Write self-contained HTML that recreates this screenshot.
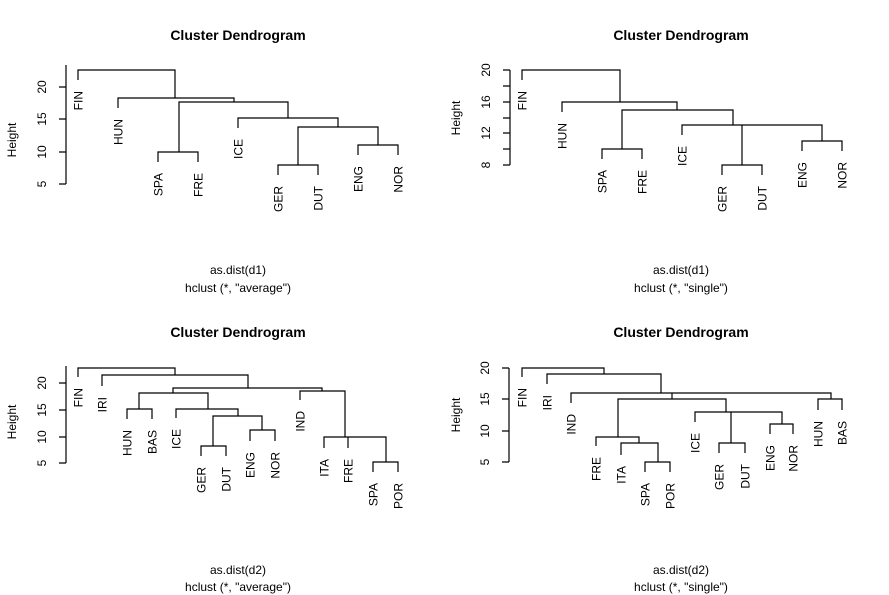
<!DOCTYPE html>
<html><head><meta charset="utf-8"><style>
html,body{margin:0;padding:0;background:#fff;}
svg{display:block;font-family:"Liberation Sans",Arial,sans-serif;}
path{fill:none;stroke:#000;stroke-width:1.2;}
.l{font-size:12px;text-anchor:end;}
.t{font-size:12px;text-anchor:middle;}
.h{font-size:14px;font-weight:bold;text-anchor:middle;}
</style></head><body>
<svg width="889" height="595" viewBox="0 0 889 595" xmlns="http://www.w3.org/2000/svg">
<!-- Panel 1 -->
<text class="h" x="238" y="40">Cluster Dendrogram</text>
<path d="M66,65V184 M59,87H66 M59,119H66 M59,152H66 M59,184H66"/>
<text class="t" transform="translate(46,87) rotate(-90)">20</text>
<text class="t" transform="translate(46,119) rotate(-90)">15</text>
<text class="t" transform="translate(46,152) rotate(-90)">10</text>
<text class="t" transform="translate(46,184) rotate(-90)">5</text>
<text class="t" transform="translate(16,140) rotate(-90)">Height</text>
<path d="M78,80V70H175V98 M118,108V98H234V102 M179,152V102H288V118 M158,162V152H198V162 M238,128V118H338V127 M298,165V127H378V145 M278,175V165H318V175 M358,155V145H398V155"/>
<text class="l" transform="translate(82.5,91) rotate(-90)">FIN</text>
<text class="l" transform="translate(122.5,119) rotate(-90)">HUN</text>
<text class="l" transform="translate(162.5,173) rotate(-90)">SPA</text>
<text class="l" transform="translate(202.5,173) rotate(-90)">FRE</text>
<text class="l" transform="translate(242.5,139) rotate(-90)">ICE</text>
<text class="l" transform="translate(282.5,186) rotate(-90)">GER</text>
<text class="l" transform="translate(322.5,186) rotate(-90)">DUT</text>
<text class="l" transform="translate(362.5,166) rotate(-90)">ENG</text>
<text class="l" transform="translate(402.5,166) rotate(-90)">NOR</text>
<text class="t" x="238" y="274">as.dist(d1)</text>
<text class="t" x="238" y="292">hclust (*, "average")</text>

<!-- Panel 2 -->
<text class="h" x="681" y="40">Cluster Dendrogram</text>
<path d="M510,70V165 M503,70H510 M503,86H510 M503,102H510 M503,118H510 M503,133H510 M503,149H510 M503,165H510"/>
<text class="t" transform="translate(490,70) rotate(-90)">20</text>
<text class="t" transform="translate(490,102) rotate(-90)">16</text>
<text class="t" transform="translate(490,133) rotate(-90)">12</text>
<text class="t" transform="translate(490,165) rotate(-90)">8</text>
<text class="t" transform="translate(460,118) rotate(-90)">Height</text>
<path d="M522,80V70H620V102 M562,112V102H677V110 M622,149V110H733V125 M602,159V149H642V159 M682,135V125H822V141 M742,125V165 M722,175V165H762V175 M802,151V141H842V151"/>
<text class="l" transform="translate(526.5,91) rotate(-90)">FIN</text>
<text class="l" transform="translate(566.5,123) rotate(-90)">HUN</text>
<text class="l" transform="translate(606.5,170) rotate(-90)">SPA</text>
<text class="l" transform="translate(646.5,170) rotate(-90)">FRE</text>
<text class="l" transform="translate(686.5,146) rotate(-90)">ICE</text>
<text class="l" transform="translate(726.5,186) rotate(-90)">GER</text>
<text class="l" transform="translate(766.5,186) rotate(-90)">DUT</text>
<text class="l" transform="translate(806.5,162) rotate(-90)">ENG</text>
<text class="l" transform="translate(846.5,162) rotate(-90)">NOR</text>
<text class="t" x="681" y="274">as.dist(d1)</text>
<text class="t" x="681" y="292">hclust (*, "single")</text>

<!-- Panel 3 -->
<text class="h" x="238" y="337">Cluster Dendrogram</text>
<path d="M66,366V463 M59,383H66 M59,410H66 M59,437H66 M59,463H66"/>
<text class="t" transform="translate(46,383) rotate(-90)">20</text>
<text class="t" transform="translate(46,410) rotate(-90)">15</text>
<text class="t" transform="translate(46,437) rotate(-90)">10</text>
<text class="t" transform="translate(46,463) rotate(-90)">5</text>
<text class="t" transform="translate(16,422) rotate(-90)">Height</text>
<path d="M78,377V368H175V375 M102,386V375H248V388 M173,393V388H322V391 M139,409V393H208V409 M127,419V409H152V419 M176,418V409H238V416 M213,446V416H262V430 M201,456V446H226V456 M250,441V430H275V441 M300,400V391H345V437 M324,448V437H386V462 M348,437V448 M373,472V462H398V472"/>
<text class="l" transform="translate(82.5,388) rotate(-90)">FIN</text>
<text class="l" transform="translate(106.5,397) rotate(-90)">IRI</text>
<text class="l" transform="translate(131.5,430) rotate(-90)">HUN</text>
<text class="l" transform="translate(156.5,430) rotate(-90)">BAS</text>
<text class="l" transform="translate(180.5,429) rotate(-90)">ICE</text>
<text class="l" transform="translate(205.5,467) rotate(-90)">GER</text>
<text class="l" transform="translate(230.5,467) rotate(-90)">DUT</text>
<text class="l" transform="translate(254.5,452) rotate(-90)">ENG</text>
<text class="l" transform="translate(279.5,452) rotate(-90)">NOR</text>
<text class="l" transform="translate(304.5,411) rotate(-90)">IND</text>
<text class="l" transform="translate(328.5,459) rotate(-90)">ITA</text>
<text class="l" transform="translate(352.5,459) rotate(-90)">FRE</text>
<text class="l" transform="translate(377.5,483) rotate(-90)">SPA</text>
<text class="l" transform="translate(402.5,483) rotate(-90)">POR</text>
<text class="t" x="238" y="574">as.dist(d2)</text>
<text class="t" x="238" y="591">hclust (*, "average")</text>

<!-- Panel 4 -->
<text class="h" x="681" y="337">Cluster Dendrogram</text>
<path d="M509,368V462 M502,368H509 M502,399H509 M502,431H509 M502,462H509"/>
<text class="t" transform="translate(489,368) rotate(-90)">20</text>
<text class="t" transform="translate(489,399) rotate(-90)">15</text>
<text class="t" transform="translate(489,431) rotate(-90)">10</text>
<text class="t" transform="translate(489,462) rotate(-90)">5</text>
<text class="t" transform="translate(460,415) rotate(-90)">Height</text>
<path d="M522,377V368H604V374 M547,384V374H661V393 M571,403V393H831V399 M818,410V399H842V410 M672,393V399 M618,437V399H726V412 M596,446V437H639V443 M621,455V443H658V462 M645,472V462H670V472 M695,422V412H782V424 M731,412V443 M719,453V443H745V453 M770,434V424H793V434"/>
<text class="l" transform="translate(526.5,388) rotate(-90)">FIN</text>
<text class="l" transform="translate(551.5,395) rotate(-90)">IRI</text>
<text class="l" transform="translate(575.5,414) rotate(-90)">IND</text>
<text class="l" transform="translate(600.5,457) rotate(-90)">FRE</text>
<text class="l" transform="translate(625.5,466) rotate(-90)">ITA</text>
<text class="l" transform="translate(649.5,483) rotate(-90)">SPA</text>
<text class="l" transform="translate(674.5,483) rotate(-90)">POR</text>
<text class="l" transform="translate(699.5,433) rotate(-90)">ICE</text>
<text class="l" transform="translate(723.5,464) rotate(-90)">GER</text>
<text class="l" transform="translate(749.5,464) rotate(-90)">DUT</text>
<text class="l" transform="translate(774.5,445) rotate(-90)">ENG</text>
<text class="l" transform="translate(797.5,445) rotate(-90)">NOR</text>
<text class="l" transform="translate(822.5,421) rotate(-90)">HUN</text>
<text class="l" transform="translate(846.5,421) rotate(-90)">BAS</text>
<text class="t" x="681" y="574">as.dist(d2)</text>
<text class="t" x="681" y="591">hclust (*, "single")</text>
</svg>
</body></html>
